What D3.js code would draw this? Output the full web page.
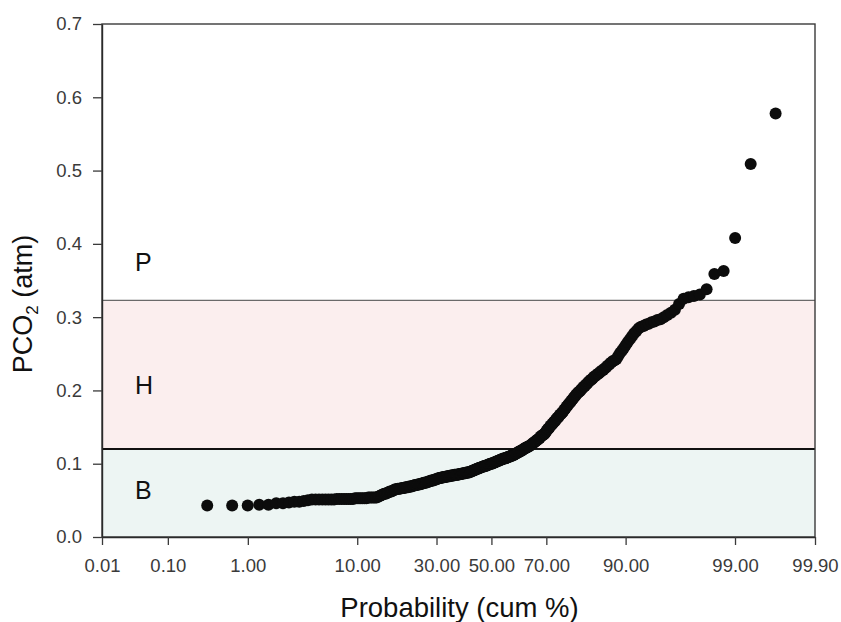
<!DOCTYPE html>
<html><head><meta charset="utf-8">
<script src="https://cdn.jsdelivr.net/npm/d3@7"></script>
<style>
body{margin:0;background:#fff;}
svg text{font-family:"Liberation Sans",Arial,Helvetica,sans-serif;}
</style>
</head><body>
<svg id="chart" width="841" height="622"></svg>
<script>
// Sorted PCO2 values (atm) (rank order)
const pco2Values = [
0.043,0.043,0.043,0.044,0.044,0.046,0.046,0.047,0.048,0.048,0.049,0.050,0.051,
0.051,0.051,0.051,0.051,0.051,0.051,0.051,
0.052,0.052,0.052,0.052,0.052,0.052,0.052,0.052,
0.053,0.053,0.053,0.053,0.053,0.053,0.053,
0.054,0.054,0.054,0.054,0.054,0.054,
0.055,0.056,0.057,0.058,0.059,0.059,0.060,0.061,0.062,0.062,0.063,0.064,
0.065,0.065,0.066,0.066,0.066,0.067,0.067,0.067,0.068,0.068,0.068,0.069,0.069,0.069,0.070,0.070,0.071,0.071,0.071,0.072,0.072,0.072,0.073,0.073,0.074,0.074,0.074,0.075,
0.075,0.076,0.076,0.077,0.077,0.077,0.078,0.078,0.079,0.079,0.080,0.080,0.081,0.081,
0.081,0.082,0.082,0.082,0.082,0.083,0.083,0.083,0.083,0.084,0.084,0.084,0.084,0.085,0.085,0.085,0.085,0.085,0.086,0.086,0.086,0.086,0.087,0.087,0.087,0.087,0.088,0.088,0.088,0.088,
0.089,0.089,0.090,0.090,0.091,0.091,0.092,0.092,0.093,0.093,0.094,0.094,0.095,0.095,0.096,0.096,0.097,0.097,0.097,0.098,0.098,0.099,0.099,0.100,0.100,
0.100,0.101,0.101,0.102,0.102,0.103,0.103,0.104,0.104,0.105,0.105,0.106,0.106,0.107,0.107,
0.107,0.108,0.108,0.109,0.109,0.110,0.110,0.111,0.111,0.112,
0.112,0.113,0.114,0.114,0.115,0.116,0.116,0.117,0.118,0.118,0.119,0.120,
0.121,0.121,0.122,0.123,0.123,0.124,
0.125,0.126,0.127,0.128,0.129,0.130,0.131,0.132,0.133,0.134,0.135,0.137,0.138,0.139,0.140,0.141,0.143,
0.145,0.147,0.148,0.150,0.152,0.153,0.155,0.157,0.158,0.160,0.162,0.163,0.165,0.167,0.168,0.170,
0.172,0.174,0.176,0.178,0.180,0.182,0.184,0.186,0.188,0.190,0.192,
0.194,0.196,0.198,0.199,0.201,0.203,0.205,0.206,0.208,0.210,0.212,
0.214,0.215,0.217,0.219,0.220,0.222,0.223,0.225,0.227,0.228,0.230,
0.232,0.234,0.236,0.238,0.240,0.241,0.243,
0.247,0.251,0.254,0.258,0.262,
0.266,0.270,0.274,0.278,0.281,0.285,
0.287,0.288,0.290,0.291,0.293,0.294,0.296,0.297,
0.300,0.303,0.306,0.310,
0.318,0.325,0.327,0.329,0.331,0.338,0.359,0.363,0.408,0.509,0.578
];
const xTickValues = [0.01, 0.1, 1, 10, 30, 50, 70, 90, 99, 99.9];
const xTickLabels = ["0.01","0.10","1.00","10.00","30.00","50.00","70.00","90.00","99.00","99.90"];
const yTickValues = [0, 0.1, 0.2, 0.3, 0.4, 0.5, 0.6, 0.7];
const zoneNames = ["B", "H", "P"];
const zoneLower = [0, 0.12, 0.323];
const zoneUpper = [0.12, 0.323, 0.7];
const zoneColors = ["#edf5f3", "#fbeeee", "none"];
const zoneLabelValues = [0.052, 0.195, 0.363];
const xDomainPct = [0.01, 99.9];
const yDomain = [0, 0.7];

// inverse standard normal CDF (Acklam)
function probit(p){
  const a=[-3.969683028665376e+01,2.209460984245205e+02,-2.759285104469687e+02,1.383577518672690e+02,-3.066479806614716e+01,2.506628277459239e+00];
  const b=[-5.447609879822406e+01,1.615858368580409e+02,-1.556989798598866e+02,6.680131188771972e+01,-1.328068155288572e+01];
  const c=[-7.784894002430293e-03,-3.223964580411365e-01,-2.400758277161838e+00,-2.549732539343734e+00,4.374664141464968e+00,2.938163982698783e+00];
  const d=[7.784695709041462e-03,3.224671290700398e-01,2.445134137142996e+00,3.754408661907416e+00];
  const pl=0.02425, ph=1-pl; let q,r;
  if(p<pl){q=Math.sqrt(-2*Math.log(p));return (((((c[0]*q+c[1])*q+c[2])*q+c[3])*q+c[4])*q+c[5])/((((d[0]*q+d[1])*q+d[2])*q+d[3])*q+1);}
  if(p>ph){q=Math.sqrt(-2*Math.log(1-p));return -(((((c[0]*q+c[1])*q+c[2])*q+c[3])*q+c[4])*q+c[5])/((((d[0]*q+d[1])*q+d[2])*q+d[3])*q+1);}
  q=p-0.5;r=q*q;return (((((a[0]*r+a[1])*r+a[2])*r+a[3])*r+a[4])*r+a[5])*q/(((((b[0]*r+b[1])*r+b[2])*r+b[3])*r+b[4])*r+1);
}

const margin = {top:24, right:26, bottom:85, left:102};
const W = 841, H = 622;
const svg = d3.select("#chart");
const x = d3.scaleLinear().domain(xDomainPct.map(v=>probit(v/100))).range([margin.left, W-margin.right]);
const y = d3.scaleLinear().domain(yDomain).range([H-margin.bottom, margin.top]);

// zones
svg.append("g").selectAll("rect").data(zoneNames.map((n,i)=>({n,i}))).join("rect")
  .attr("x", x.range()[0]).attr("width", x.range()[1]-x.range()[0])
  .attr("y", d=>y(zoneUpper[d.i])).attr("height", d=>y(zoneLower[d.i])-y(zoneUpper[d.i]))
  .attr("fill", d=>zoneColors[d.i]);
svg.append("line").attr("x1", x.range()[0]).attr("x2", x.range()[1])
  .attr("y1", y(zoneLower[2])).attr("y2", y(zoneLower[2])).attr("stroke","#6a6a6a").attr("stroke-width",1.2);
svg.append("line").attr("x1", x.range()[0]).attr("x2", x.range()[1])
  .attr("y1", y(zoneLower[1])).attr("y2", y(zoneLower[1])).attr("stroke","#111").attr("stroke-width",2);

// zone labels
svg.append("g").selectAll("text").data(zoneNames).join("text")
  .attr("x", 135).attr("y", (d,i)=>y(zoneLabelValues[i]))
  .attr("font-size", 25).attr("fill", "#111").text(d=>d);

// points
const n = pco2Values.length;
svg.append("g").selectAll("circle").data(pco2Values).join("circle")
  .attr("cx", (d,i)=>x(probit((i+1)/(n+1))))
  .attr("cy", d=>y(d))
  .attr("r", 6)
  .attr("fill", "#0c0c0c");

// frame
svg.append("rect").attr("x", x.range()[0]).attr("y", y.range()[1])
  .attr("width", x.range()[1]-x.range()[0]).attr("height", y.range()[0]-y.range()[1])
  .attr("fill","none").attr("stroke","#3a3a3a").attr("stroke-width",1.4);

// axes
const xAxis = d3.axisBottom(x).tickValues(xTickValues.map(v=>probit(v/100)))
  .tickFormat((d,i)=>xTickLabels[i]).tickSize(8).tickSizeOuter(0).tickPadding(14);
const gx = svg.append("g").attr("transform", `translate(0,${y.range()[0]})`).call(xAxis);
const yAxis = d3.axisLeft(y).tickValues(yTickValues).tickFormat(d3.format(".1f"))
  .tickSize(9).tickSizeOuter(0).tickPadding(11);
const gy = svg.append("g").attr("transform", `translate(${x.range()[0]},0)`).call(yAxis);
[gx, gy].forEach(g=>{
  g.select(".domain").attr("stroke","#2a2a2a").attr("stroke-width",1.4);
  g.selectAll(".tick line").attr("stroke","#3a3a3a").attr("stroke-width",1.3);
  g.selectAll(".tick text").attr("font-size",18.5).attr("fill","#3a3a3a")
    .attr("font-family","'Liberation Sans',Arial,sans-serif");
});

// axis titles
svg.append("text").attr("x", (x.range()[0]+x.range()[1])/2 + 1).attr("y", 617)
  .attr("text-anchor","middle").attr("font-size",27.5).attr("fill","#111")
  .text("Probability (cum %)");
const yt = svg.append("text").attr("transform","translate(32,304) rotate(-90)")
  .attr("text-anchor","middle").attr("font-size",27).attr("fill","#111");
yt.append("tspan").text("PCO");
yt.append("tspan").attr("font-size",17).attr("dy",6).text("2");
yt.append("tspan").attr("dy",-6).text(" (atm)");
</script>
</body></html>
